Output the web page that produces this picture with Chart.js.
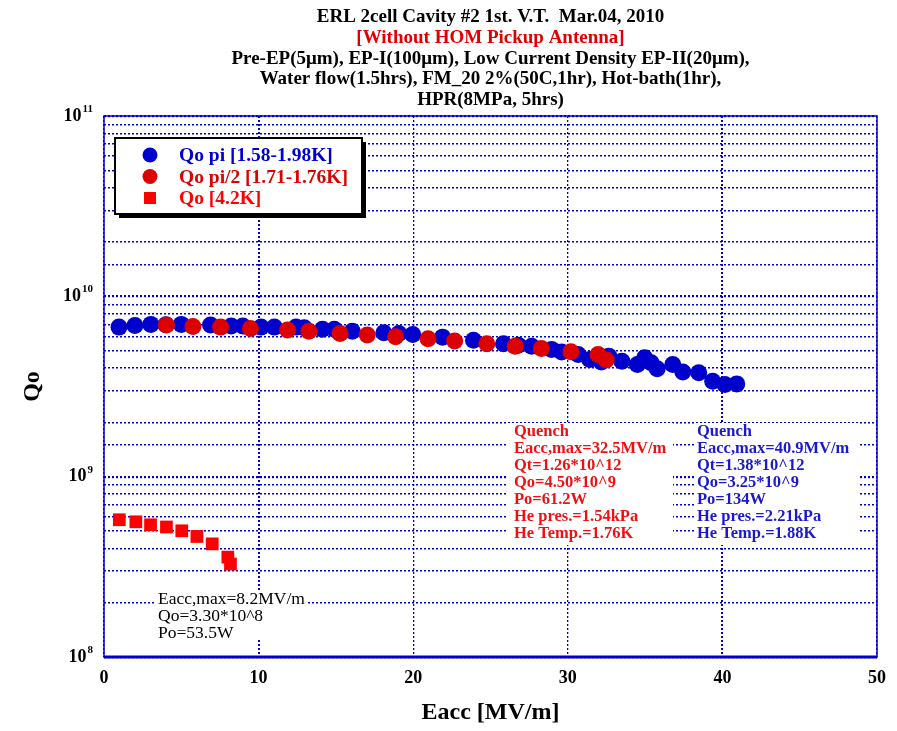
<!DOCTYPE html>
<html>
<head>
<meta charset="utf-8">
<script src="https://cdn.jsdelivr.net/npm/chart.js@4.4.1/dist/chart.umd.min.js"></script>
<style>
  html, body { margin: 0; padding: 0; background: #fff; }
  #wrap { width: 897px; height: 731px; }
</style>
</head>
<body>
<div id="wrap"><canvas id="qoChart" width="897" height="731"></canvas></div>
<script>
// Qo vs Eacc
const piEacc = [0.97, 2.0, 3.03, 4.0, 5.0, 6.89, 8.23, 8.98, 10.16, 11.02, 12.42, 12.95, 14.13, 14.9, 16.06, 18.1, 19.07, 19.97, 21.9, 23.9, 25.84, 26.8, 27.66, 28.95, 29.6, 30.67, 31.42, 32.17, 32.65, 33.5, 34.5, 34.97, 35.39, 35.78, 36.79, 37.44, 38.47, 39.37, 40.16, 40.93];
const piQo = [6.75e9, 6.90e9, 6.99e9, 6.95e9, 6.99e9, 6.93e9, 6.84e9, 6.84e9, 6.75e9, 6.75e9, 6.75e9, 6.70e9, 6.56e9, 6.56e9, 6.41e9, 6.28e9, 6.23e9, 6.15e9, 5.94e9, 5.70e9, 5.46e9, 5.36e9, 5.29e9, 5.08e9, 4.91e9, 4.76e9, 4.47e9, 4.32e9, 4.66e9, 4.37e9, 4.19e9, 4.57e9, 4.28e9, 3.97e9, 4.19e9, 3.80e9, 3.77e9, 3.38e9, 3.24e9, 3.27e9];

const halfPiEacc = [4.04, 5.75, 7.54, 9.47, 11.87, 13.25, 15.27, 17.03, 18.86, 20.96, 22.68, 24.76, 26.59, 28.29, 30.2, 31.96, 32.49];
const halfPiQo = [6.93e9, 6.81e9, 6.75e9, 6.64e9, 6.50e9, 6.41e9, 6.23e9, 6.10e9, 5.97e9, 5.82e9, 5.65e9, 5.46e9, 5.29e9, 5.14e9, 4.93e9, 4.76e9, 4.43e9];

const k42Eacc = [0.99, 2.06, 3.01, 4.04, 5.03, 6.01, 7.0, 8.01, 8.18];
const k42Qo = [5.77e8, 5.62e8, 5.41e8, 5.26e8, 5.01e8, 4.66e8, 4.24e8, 3.58e8, 3.28e8];

const xTicks = [0, 10, 20, 30, 40, 50];
const yDecades = [1e8, 1e9, 1e10, 1e11];
const yExponents = ['8', '9', '10', '11'];

const titleLines = [
  ['ERL 2cell Cavity #2 1st. V.T.  Mar.04, 2010', '#000'],
  ['[Without HOM Pickup Antenna]', '#e00000'],
  ['Pre-EP(5\u03bcm), EP-I(100\u03bcm), Low Current Density EP-II(20\u03bcm),', '#000'],
  ['Water flow(1.5hrs), FM_20 2%(50C,1hr), Hot-bath(1hr),', '#000'],
  ['HPR(8MPa, 5hrs)', '#000']
];
const legendItems = [
  ['Qo pi [1.58-1.98K]', '#0000cc', 'circle'],
  ['Qo pi/2 [1.71-1.76K]', '#dd0000', 'circle'],
  ['Qo [4.2K]', '#ff0000', 'rect']
];
const noteRed = ['Quench', 'Eacc,max=32.5MV/m', 'Qt=1.26*10^12', 'Qo=4.50*10^9', 'Po=61.2W', 'He pres.=1.54kPa', 'He Temp.=1.76K'];
const noteBlue = ['Quench', 'Eacc,max=40.9MV/m', 'Qt=1.38*10^12', 'Qo=3.25*10^9', 'Po=134W', 'He pres.=2.21kPa', 'He Temp.=1.88K'];
const noteBlack = ['Eacc,max=8.2MV/m', 'Qo=3.30*10^8', 'Po=53.5W'];

const BLUE = '#0000cc';
const SERIF = '"Liberation Serif", "Times New Roman", serif';

function pts(xs, ys) {
  return xs.map((x, i) => ({ x: x, y: ys[i] }));
}
function isDecade(v) {
  const l = Math.log10(v);
  return Math.abs(l - Math.round(l)) < 1e-6;
}

const decorations = {
  id: 'decorations',
  beforeDatasetsDraw(chart) {
    const c = chart.ctx;
    c.save();
    // white boxes behind the quench notes
    c.fillStyle = '#fff';
    c.fillRect(507, 423, 166, 122);
    c.fillRect(694, 423, 166, 122);
    c.fillRect(156, 590, 152, 50);
    c.font = 'bold 16.5px ' + SERIF;
    c.textBaseline = 'middle';
    noteRed.forEach((t, i) => { c.fillStyle = '#ee1111'; c.fillText(t, 514, 432 + i * 17); });
    noteBlue.forEach((t, i) => { c.fillStyle = '#1a1acc'; c.fillText(t, 697, 432 + i * 17); });
    c.font = '17.5px ' + SERIF;
    noteBlack.forEach((t, i) => { c.fillStyle = '#000'; c.fillText(t, 158, 599 + i * 17); });
    c.restore();
  },
  afterDraw(chart) {
    const c = chart.ctx, a = chart.chartArea;
    c.save();
    // frame
    c.strokeStyle = BLUE;
    c.lineWidth = 1.5;
    c.strokeRect(a.left, a.top, a.right - a.left, a.bottom - a.top);
    c.lineWidth = 3;
    c.beginPath(); c.moveTo(a.left, a.bottom); c.lineTo(a.right, a.bottom); c.stroke();
    // y decade labels with superscript exponents
    const ys = chart.scales.y;
    c.fillStyle = '#000';
    c.textBaseline = 'middle';
    c.textAlign = 'right';
    yDecades.forEach((d, i) => {
      const py = ys.getPixelForValue(d);
      c.font = 'bold 11px ' + SERIF;
      const ew = c.measureText(yExponents[i]).width;
      c.fillText(yExponents[i], 93, py - 7);
      c.font = 'bold 18px ' + SERIF;
      c.fillText('10', 93 - ew - 1, py);
    });
    // title
    c.textAlign = 'center';
    c.font = 'bold 19px ' + SERIF;
    titleLines.forEach((l, i) => {
      c.fillStyle = l[1];
      c.fillText(l[0], (a.left + a.right) / 2, 17 + i * 20.8);
    });
    // legend
    const lx = 115, ly = 138, lw = 247, lh = 76;
    c.fillStyle = '#000';
    c.fillRect(lx + 4, ly + 4, lw, lh);
    c.fillStyle = '#fff';
    c.fillRect(lx, ly, lw, lh);
    c.strokeStyle = '#000';
    c.lineWidth = 2;
    c.strokeRect(lx, ly, lw, lh);
    c.textAlign = 'left';
    c.font = 'bold 19.5px ' + SERIF;
    legendItems.forEach((it, i) => {
      const y = 155 + i * 21.5;
      c.fillStyle = it[1];
      if (it[2] === 'circle') {
        c.beginPath(); c.arc(150, y, 7.5, 0, Math.PI * 2); c.fill();
      } else {
        c.fillRect(144, y - 6, 12, 12);
      }
      c.fillText(it[0], 179, y + 1);
    });
    c.restore();
  }
};

new Chart(document.getElementById('qoChart'), {
  type: 'scatter',
  data: {
    datasets: [
      {
        label: 'Qo pi [1.58-1.98K]',
        data: pts(piEacc, piQo),
        backgroundColor: BLUE,
        borderColor: BLUE,
        pointStyle: 'circle',
        pointRadius: 8.5,
        borderWidth: 0,
        order: 2
      },
      {
        label: 'Qo pi/2 [1.71-1.76K]',
        data: pts(halfPiEacc, halfPiQo),
        backgroundColor: '#dd0000',
        borderColor: '#dd0000',
        pointStyle: 'circle',
        pointRadius: 8.5,
        borderWidth: 0,
        order: 1
      },
      {
        label: 'Qo [4.2K]',
        data: pts(k42Eacc, k42Qo),
        backgroundColor: '#ff0000',
        borderColor: '#ff0000',
        pointStyle: 'rect',
        pointRadius: 9,
        borderWidth: 0,
        order: 1
      }
    ]
  },
  options: {
    responsive: false,
    animation: false,
    layout: { padding: { left: 0, right: 17, top: 116, bottom: 0 } },
    plugins: {
      legend: { display: false },
      tooltip: { enabled: false }
    },
    scales: {
      x: {
        type: 'linear',
        min: 0,
        max: 50,
        afterBuildTicks: s => { s.ticks = xTicks.map(v => ({ value: v })); },
        afterFit: s => { s.height = 74; },
        border: { display: false, dash: [2, 2] },
        grid: {
          color: BLUE,
          lineWidth: ctx => (ctx.tick && (ctx.tick.value === 10 || ctx.tick.value === 40)) ? 2 : 1.3,
          drawTicks: false
        },
        ticks: {
          color: '#000',
          padding: 11,
          font: { family: SERIF, size: 18, weight: 'bold' }
        },
        title: {
          display: true,
          text: 'Eacc [MV/m]',
          color: '#000',
          font: { family: SERIF, size: 24, weight: 'bold' },
          padding: { top: 13 }
        }
      },
      y: {
        type: 'logarithmic',
        min: 1e8,
        max: 1e11,
        afterFit: s => { s.width = 104; },
        border: { display: false, dash: [2, 2] },
        grid: {
          color: BLUE,
          lineWidth: ctx => (ctx.tick && isDecade(ctx.tick.value)) ? 2.2 : 1.5,
          drawTicks: false
        },
        ticks: {
          autoSkip: false,
          color: '#000',
          padding: 12,
          font: { family: SERIF, size: 17, weight: 'bold' },
          callback: () => ''
        },
        title: {
          display: true,
          text: 'Qo',
          color: '#000',
          font: { family: SERIF, size: 24, weight: 'bold' },
          padding: { top: 18, bottom: 0 }
        }
      }
    }
  },
  plugins: [decorations]
});
</script>
</body>
</html>
